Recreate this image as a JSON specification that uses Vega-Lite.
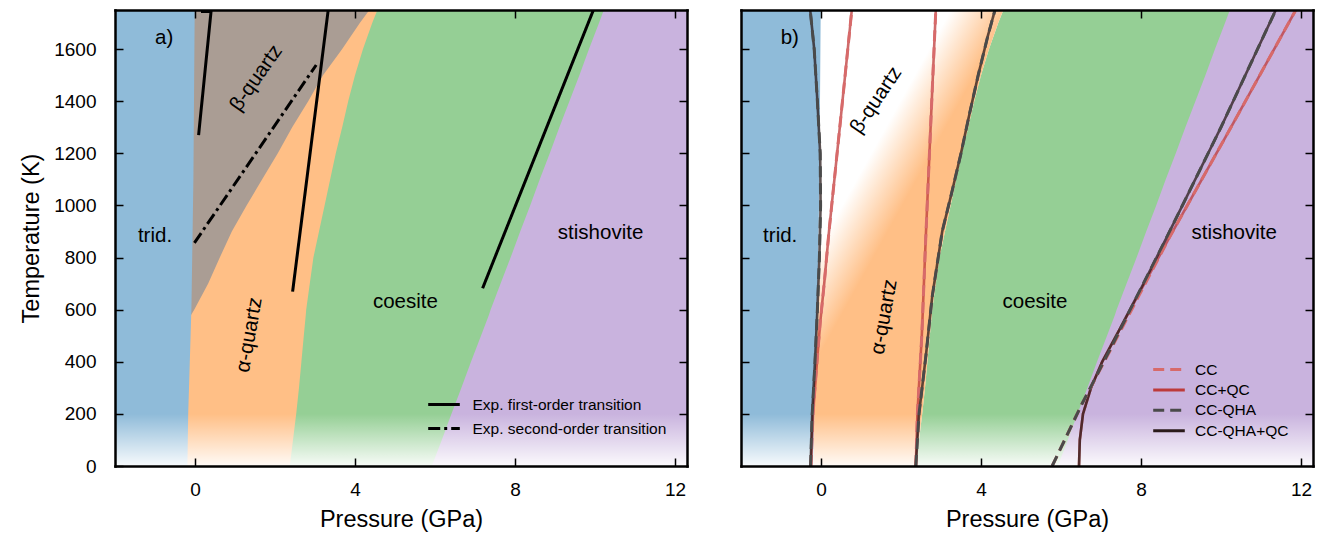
{
  "$schema": "https://vega.github.io/schema/vega-lite/v6.json",
  "background": "white",
  "padding": {"left": 19, "top": 9, "right": 5, "bottom": 2},
  "spacing": 52,
  "config": {
    "font": "Liberation Sans",
    "view": {"stroke": null, "fill": "#c9b3de"},
    "axis": {"grid": false, "domain": true, "domainColor": "black", "domainWidth": 2.5, "domainCap": "square", "tickColor": "black", "tickWidth": 1.5, "tickSize": -8, "labelColor": "black", "titleColor": "black", "labelFontSize": 19, "titleFontSize": 23.5, "titleFontWeight": "normal", "labelFont": "Liberation Sans", "titleFont": "Liberation Sans", "format": "d"},
    "legend": {"labelFontSize": 15.5, "labelColor": "black", "labelFont": "Liberation Sans", "labelLimit": 400, "symbolStrokeWidth": 3, "symbolSize": 400, "symbolType": "M-1.58,0H1.58", "padding": 0},
    "text": {"font": "Liberation Sans", "color": "black"}
  },
  "datasets": {
    "bounds": [
      {"T": 0, "b1": -0.19, "b2": null, "b3": 2.37, "b4": 5.92},
      {"T": 100, "b1": -0.18, "b2": null, "b3": 2.45, "b4": 6.17},
      {"T": 200, "b1": -0.17, "b2": null, "b3": 2.53, "b4": 6.41},
      {"T": 300, "b1": -0.15, "b2": null, "b3": 2.6, "b4": 6.66},
      {"T": 400, "b1": -0.13, "b2": null, "b3": 2.66, "b4": 6.9},
      {"T": 500, "b1": -0.11, "b2": null, "b3": 2.72, "b4": 7.15},
      {"T": 580, "b1": -0.095, "b2": -0.095, "b3": 2.77, "b4": 7.35},
      {"T": 600, "b1": -0.09, "b2": -0.02, "b3": 2.78, "b4": 7.39},
      {"T": 700, "b1": -0.08, "b2": 0.33, "b3": 2.87, "b4": 7.64},
      {"T": 800, "b1": -0.07, "b2": 0.62, "b3": 2.96, "b4": 7.89},
      {"T": 900, "b1": -0.06, "b2": 0.92, "b3": 3.1, "b4": 8.13},
      {"T": 1000, "b1": -0.05, "b2": 1.29, "b3": 3.24, "b4": 8.38},
      {"T": 1100, "b1": -0.04, "b2": 1.68, "b3": 3.38, "b4": 8.62},
      {"T": 1200, "b1": -0.035, "b2": 2.07, "b3": 3.52, "b4": 8.87},
      {"T": 1300, "b1": -0.03, "b2": 2.43, "b3": 3.68, "b4": 9.11},
      {"T": 1400, "b1": -0.025, "b2": 2.83, "b3": 3.83, "b4": 9.36},
      {"T": 1500, "b1": -0.02, "b2": 3.2, "b3": 4.0, "b4": 9.61},
      {"T": 1600, "b1": -0.015, "b2": 3.68, "b3": 4.2, "b4": 9.85},
      {"T": 1700, "b1": -0.01, "b2": 4.12, "b3": 4.43, "b4": 10.1},
      {"T": 1750, "b1": -0.005, "b2": 4.36, "b3": 4.56, "b4": 10.22}
    ],
    "fade": [{"Tlo": 0, "Thi": 200}],
    "expa": [
      {"seg": "A", "type": "Exp. first-order transition", "P": 0.09, "T": 1270},
      {"seg": "A", "type": "Exp. first-order transition", "P": 0.405, "T": 1750},
      {"seg": "At", "type": "Exp. first-order transition", "P": 0.15, "T": 1744},
      {"seg": "At", "type": "Exp. first-order transition", "P": 0.4, "T": 1744},
      {"seg": "B", "type": "Exp. first-order transition", "P": 2.44, "T": 669},
      {"seg": "B", "type": "Exp. first-order transition", "P": 3.33, "T": 1750},
      {"seg": "C", "type": "Exp. first-order transition", "P": 7.19, "T": 682},
      {"seg": "C", "type": "Exp. first-order transition", "P": 9.96, "T": 1750},
      {"seg": "D", "type": "Exp. second-order transition", "P": -0.015, "T": 856},
      {"seg": "D", "type": "Exp. second-order transition", "P": 3.03, "T": 1539}
    ],
    "labels_a": [
      {"name": "a)", "P": -0.77, "T": 1642},
      {"name": "trid.", "P": -1.0, "T": 883},
      {"name": "coesite", "P": 5.26, "T": 629},
      {"name": "stishovite", "P": 10.14, "T": 894},
      {"name": "β-quartz", "P": 1.53, "T": 1489},
      {"name": "α-quartz", "P": 1.36, "T": 503}
    ],
    "labels_b": [
      {"name": "b)", "P": -0.78, "T": 1642},
      {"name": "trid.", "P": -1.02, "T": 883},
      {"name": "coesite", "P": 5.35, "T": 629},
      {"name": "stishovite", "P": 10.33, "T": 894},
      {"name": "β-quartz", "P": 1.38, "T": 1404},
      {"name": "α-quartz", "P": 1.58, "T": 572}
    ],
    "calc": [
      {"method": "CC", "bnd": "tq", "P": -0.25, "T": 0},
      {"method": "CC", "bnd": "tq", "P": -0.2, "T": 200},
      {"method": "CC", "bnd": "tq", "P": -0.1, "T": 400},
      {"method": "CC", "bnd": "tq", "P": -0.02, "T": 550},
      {"method": "CC", "bnd": "tq", "P": 0.08, "T": 700},
      {"method": "CC", "bnd": "tq", "P": 0.2, "T": 900},
      {"method": "CC", "bnd": "tq", "P": 0.47, "T": 1300},
      {"method": "CC", "bnd": "tq", "P": 0.77, "T": 1750},
      {"method": "CC", "bnd": "qc", "P": 2.37, "T": 0},
      {"method": "CC", "bnd": "qc", "P": 2.41, "T": 200},
      {"method": "CC", "bnd": "qc", "P": 2.52, "T": 500},
      {"method": "CC", "bnd": "qc", "P": 2.62, "T": 880},
      {"method": "CC", "bnd": "qc", "P": 2.74, "T": 1300},
      {"method": "CC", "bnd": "qc", "P": 2.87, "T": 1750},
      {"method": "CC", "bnd": "cs", "P": 5.78, "T": 0},
      {"method": "CC", "bnd": "cs", "P": 6.53, "T": 240},
      {"method": "CC", "bnd": "cs", "P": 7.37, "T": 484},
      {"method": "CC", "bnd": "cs", "P": 8.72, "T": 880},
      {"method": "CC", "bnd": "cs", "P": 10.25, "T": 1300},
      {"method": "CC", "bnd": "cs", "P": 11.87, "T": 1750},
      {"method": "CC+QC", "bnd": "tq", "P": -0.25, "T": 0},
      {"method": "CC+QC", "bnd": "tq", "P": -0.2, "T": 200},
      {"method": "CC+QC", "bnd": "tq", "P": -0.1, "T": 400},
      {"method": "CC+QC", "bnd": "tq", "P": -0.02, "T": 550},
      {"method": "CC+QC", "bnd": "tq", "P": 0.08, "T": 700},
      {"method": "CC+QC", "bnd": "tq", "P": 0.2, "T": 900},
      {"method": "CC+QC", "bnd": "tq", "P": 0.47, "T": 1300},
      {"method": "CC+QC", "bnd": "tq", "P": 0.77, "T": 1750},
      {"method": "CC+QC", "bnd": "qc", "P": 2.37, "T": 0},
      {"method": "CC+QC", "bnd": "qc", "P": 2.41, "T": 200},
      {"method": "CC+QC", "bnd": "qc", "P": 2.52, "T": 500},
      {"method": "CC+QC", "bnd": "qc", "P": 2.62, "T": 880},
      {"method": "CC+QC", "bnd": "qc", "P": 2.74, "T": 1300},
      {"method": "CC+QC", "bnd": "qc", "P": 2.87, "T": 1750},
      {"method": "CC+QC", "bnd": "cs", "P": 6.45, "T": 0},
      {"method": "CC+QC", "bnd": "cs", "P": 6.47, "T": 100},
      {"method": "CC+QC", "bnd": "cs", "P": 6.55, "T": 200},
      {"method": "CC+QC", "bnd": "cs", "P": 6.75, "T": 300},
      {"method": "CC+QC", "bnd": "cs", "P": 7.03, "T": 400},
      {"method": "CC+QC", "bnd": "cs", "P": 7.45, "T": 520},
      {"method": "CC+QC", "bnd": "cs", "P": 8.05, "T": 690},
      {"method": "CC+QC", "bnd": "cs", "P": 8.72, "T": 880},
      {"method": "CC+QC", "bnd": "cs", "P": 10.25, "T": 1300},
      {"method": "CC+QC", "bnd": "cs", "P": 11.87, "T": 1750},
      {"method": "CC-QHA", "bnd": "tq", "P": -0.26, "T": 0},
      {"method": "CC-QHA", "bnd": "tq", "P": -0.22, "T": 200},
      {"method": "CC-QHA", "bnd": "tq", "P": -0.15, "T": 400},
      {"method": "CC-QHA", "bnd": "tq", "P": -0.09, "T": 600},
      {"method": "CC-QHA", "bnd": "tq", "P": -0.04, "T": 800},
      {"method": "CC-QHA", "bnd": "tq", "P": -0.01, "T": 1000},
      {"method": "CC-QHA", "bnd": "tq", "P": -0.02, "T": 1200},
      {"method": "CC-QHA", "bnd": "tq", "P": -0.09, "T": 1400},
      {"method": "CC-QHA", "bnd": "tq", "P": -0.17, "T": 1600},
      {"method": "CC-QHA", "bnd": "tq", "P": -0.27, "T": 1750},
      {"method": "CC-QHA", "bnd": "qc", "P": 2.37, "T": 0},
      {"method": "CC-QHA", "bnd": "qc", "P": 2.45, "T": 200},
      {"method": "CC-QHA", "bnd": "qc", "P": 2.62, "T": 420},
      {"method": "CC-QHA", "bnd": "qc", "P": 2.78, "T": 650},
      {"method": "CC-QHA", "bnd": "qc", "P": 3.03, "T": 900},
      {"method": "CC-QHA", "bnd": "qc", "P": 3.27, "T": 1050},
      {"method": "CC-QHA", "bnd": "qc", "P": 3.5, "T": 1200},
      {"method": "CC-QHA", "bnd": "qc", "P": 3.71, "T": 1350},
      {"method": "CC-QHA", "bnd": "qc", "P": 3.93, "T": 1500},
      {"method": "CC-QHA", "bnd": "qc", "P": 4.17, "T": 1650},
      {"method": "CC-QHA", "bnd": "qc", "P": 4.35, "T": 1750},
      {"method": "CC-QHA", "bnd": "cs", "P": 5.78, "T": 0},
      {"method": "CC-QHA", "bnd": "cs", "P": 6.53, "T": 240},
      {"method": "CC-QHA", "bnd": "cs", "P": 7.35, "T": 484},
      {"method": "CC-QHA", "bnd": "cs", "P": 8.65, "T": 880},
      {"method": "CC-QHA", "bnd": "cs", "P": 10.0, "T": 1300},
      {"method": "CC-QHA", "bnd": "cs", "P": 11.37, "T": 1750},
      {"method": "CC-QHA+QC", "bnd": "tq", "P": -0.26, "T": 0},
      {"method": "CC-QHA+QC", "bnd": "tq", "P": -0.22, "T": 200},
      {"method": "CC-QHA+QC", "bnd": "tq", "P": -0.15, "T": 400},
      {"method": "CC-QHA+QC", "bnd": "tq", "P": -0.09, "T": 600},
      {"method": "CC-QHA+QC", "bnd": "tq", "P": -0.04, "T": 800},
      {"method": "CC-QHA+QC", "bnd": "tq", "P": -0.01, "T": 1000},
      {"method": "CC-QHA+QC", "bnd": "tq", "P": -0.02, "T": 1200},
      {"method": "CC-QHA+QC", "bnd": "tq", "P": -0.09, "T": 1400},
      {"method": "CC-QHA+QC", "bnd": "tq", "P": -0.17, "T": 1600},
      {"method": "CC-QHA+QC", "bnd": "tq", "P": -0.27, "T": 1750},
      {"method": "CC-QHA+QC", "bnd": "qc", "P": 2.37, "T": 0},
      {"method": "CC-QHA+QC", "bnd": "qc", "P": 2.45, "T": 200},
      {"method": "CC-QHA+QC", "bnd": "qc", "P": 2.62, "T": 420},
      {"method": "CC-QHA+QC", "bnd": "qc", "P": 2.78, "T": 650},
      {"method": "CC-QHA+QC", "bnd": "qc", "P": 3.03, "T": 900},
      {"method": "CC-QHA+QC", "bnd": "qc", "P": 3.27, "T": 1050},
      {"method": "CC-QHA+QC", "bnd": "qc", "P": 3.5, "T": 1200},
      {"method": "CC-QHA+QC", "bnd": "qc", "P": 3.71, "T": 1350},
      {"method": "CC-QHA+QC", "bnd": "qc", "P": 3.93, "T": 1500},
      {"method": "CC-QHA+QC", "bnd": "qc", "P": 4.17, "T": 1650},
      {"method": "CC-QHA+QC", "bnd": "qc", "P": 4.35, "T": 1750},
      {"method": "CC-QHA+QC", "bnd": "cs", "P": 6.45, "T": 0},
      {"method": "CC-QHA+QC", "bnd": "cs", "P": 6.47, "T": 100},
      {"method": "CC-QHA+QC", "bnd": "cs", "P": 6.55, "T": 200},
      {"method": "CC-QHA+QC", "bnd": "cs", "P": 6.75, "T": 300},
      {"method": "CC-QHA+QC", "bnd": "cs", "P": 7.03, "T": 400},
      {"method": "CC-QHA+QC", "bnd": "cs", "P": 7.45, "T": 520},
      {"method": "CC-QHA+QC", "bnd": "cs", "P": 8.03, "T": 690},
      {"method": "CC-QHA+QC", "bnd": "cs", "P": 8.65, "T": 880},
      {"method": "CC-QHA+QC", "bnd": "cs", "P": 10.0, "T": 1300},
      {"method": "CC-QHA+QC", "bnd": "cs", "P": 11.37, "T": 1750}
    ]
  },
  "resolve": {"scale": {"strokeDash": "independent", "color": "independent"}, "legend": {"strokeDash": "independent", "color": "independent"}},
  "hconcat": [
    {
      "width": 572,
      "height": 456,
      "resolve": {"axis": {"x": "independent", "y": "independent"}},
      "layer": [
        {
          "data": {"name": "bounds"},
          "mark": {"type": "area", "orient": "horizontal", "color": "#95cf95"},
          "encoding": {
            "y": {"field": "T", "type": "quantitative", "scale": {"domain": [0, 1750], "nice": false, "zero": false},
                  "axis": {"orient": "left", "zindex": 1, "values": [0, 200, 400, 600, 800, 1000, 1200, 1400, 1600], "title": "Temperature (K)", "titlePadding": 10, "labelPadding": 27}},
            "x": {"field": "b4", "type": "quantitative", "scale": {"domain": [-2, 12.3], "nice": false, "zero": false},
                  "axis": {"orient": "bottom", "zindex": 1, "values": [0, 4, 8, 12], "title": "Pressure (GPa)", "titlePadding": 8, "labelPadding": 22}},
            "x2": {"datum": -2}
          }
        },
        {
          "data": {"name": "bounds"},
          "mark": {"type": "area", "orient": "horizontal", "color": "#ffbf86"},
          "encoding": {
            "y": {"field": "T", "type": "quantitative", "axis": null},
            "x": {"field": "b3", "type": "quantitative", "axis": null},
            "x2": {"datum": -2}
          }
        },
        {
          "data": {"name": "bounds"},
          "transform": [{"filter": "isValid(datum.b2)"}],
          "mark": {"type": "area", "orient": "horizontal", "color": "#aa9d94"},
          "encoding": {
            "y": {"field": "T", "type": "quantitative", "axis": null},
            "x": {"field": "b2", "type": "quantitative", "axis": null},
            "x2": {"datum": -2}
          }
        },
        {
          "data": {"name": "bounds"},
          "mark": {"type": "area", "orient": "horizontal", "color": "#8fbbd9"},
          "encoding": {
            "y": {"field": "T", "type": "quantitative", "axis": null},
            "x": {"field": "b1", "type": "quantitative", "axis": null},
            "x2": {"datum": -2}
          }
        },
        {
          "data": {"name": "fade"},
          "mark": {"type": "rect", "color": {"gradient": "linear", "x1": 0, "y1": 1, "x2": 0, "y2": 0, "stops": [{"offset": 0, "color": "rgba(255,255,255,0.93)"}, {"offset": 1, "color": "rgba(255,255,255,0)"}]}},
          "encoding": {
            "y": {"field": "Tlo", "type": "quantitative", "axis": null},
            "y2": {"field": "Thi"}
          }
        },
        {
          "data": {"name": "expa"},
          "mark": {"type": "line", "color": "black", "strokeWidth": 3, "clip": true},
          "encoding": {
            "x": {"field": "P", "type": "quantitative", "axis": {"orient": "top", "zindex": 1, "values": [0, 4, 8, 12], "labels": false, "title": null}},
            "y": {"field": "T", "type": "quantitative", "axis": {"orient": "right", "zindex": 1, "values": [200, 400, 600, 800, 1000, 1200, 1400, 1600], "labels": false, "title": null}},
            "detail": {"field": "seg"},
            "order": {"field": "T", "type": "quantitative"},
            "strokeDash": {"field": "type", "type": "nominal",
              "scale": {"domain": ["Exp. first-order transition", "Exp. second-order transition"], "range": [[1, 0], [12, 4, 3, 4]]},
              "legend": {"orient": "none", "legendX": 317.5, "legendY": 383, "title": null, "rowPadding": 4, "labelOffset": 17, "symbolStrokeColor": "black"}}
          }
        },
        {
          "data": {"name": "labels_a"},
          "transform": [{"filter": "datum.name !== 'β-quartz' && datum.name !== 'α-quartz'"}],
          "mark": {"type": "text", "fontSize": 20.5, "align": "center", "baseline": "middle"},
          "encoding": {
            "x": {"field": "P", "type": "quantitative", "axis": null},
            "y": {"field": "T", "type": "quantitative", "axis": null},
            "text": {"field": "name"}
          }
        },
        {
          "data": {"name": "labels_a"},
          "transform": [{"filter": "datum.name === 'β-quartz'"}],
          "mark": {"type": "text", "fontSize": 20.5, "align": "center", "baseline": "middle", "angle": 305},
          "encoding": {
            "x": {"field": "P", "type": "quantitative", "axis": null},
            "y": {"field": "T", "type": "quantitative", "axis": null},
            "text": {"field": "name"}
          }
        },
        {
          "data": {"name": "labels_a"},
          "transform": [{"filter": "datum.name === 'α-quartz'"}],
          "mark": {"type": "text", "fontSize": 20.5, "align": "center", "baseline": "middle", "angle": 280},
          "encoding": {
            "x": {"field": "P", "type": "quantitative", "axis": null},
            "y": {"field": "T", "type": "quantitative", "axis": null},
            "text": {"field": "name"}
          }
        }
      ]
    },
    {
      "width": 572,
      "height": 456,
      "resolve": {"axis": {"x": "independent", "y": "independent"}},
      "layer": [
        {
          "data": {"name": "bounds"},
          "mark": {"type": "area", "orient": "horizontal", "color": "#95cf95"},
          "encoding": {
            "y": {"field": "T", "type": "quantitative", "scale": {"domain": [0, 1750], "nice": false, "zero": false},
                  "axis": {"orient": "left", "zindex": 1, "values": [200, 400, 600, 800, 1000, 1200, 1400, 1600], "labels": false, "title": null}},
            "x": {"field": "b4", "type": "quantitative", "scale": {"domain": [-2, 12.3], "nice": false, "zero": false},
                  "axis": {"orient": "bottom", "zindex": 1, "values": [0, 4, 8, 12], "title": "Pressure (GPa)", "titlePadding": 8, "labelPadding": 22}},
            "x2": {"datum": -2}
          }
        },
        {
          "data": {"name": "bounds"},
          "mark": {"type": "area", "orient": "horizontal", "color": "white"},
          "encoding": {
            "y": {"field": "T", "type": "quantitative", "axis": null},
            "x": {"field": "b3", "type": "quantitative", "axis": null},
            "x2": {"datum": -2}
          }
        },
        {
          "data": {"name": "bounds"},
          "mark": {"type": "area", "orient": "horizontal", "color": {"gradient": "linear", "x1": 0.422, "y1": 0.226, "x2": 0.536, "y2": 0.378, "stops": [{"offset": 0, "color": "#ffffff"}, {"offset": 1, "color": "#ffbf86"}]}},
          "encoding": {
            "y": {"field": "T", "type": "quantitative", "axis": null},
            "x": {"field": "b1", "type": "quantitative", "axis": null},
            "x2": {"field": "b3"}
          }
        },
        {
          "data": {"name": "bounds"},
          "mark": {"type": "area", "orient": "horizontal", "color": "#8fbbd9"},
          "encoding": {
            "y": {"field": "T", "type": "quantitative", "axis": null},
            "x": {"field": "b1", "type": "quantitative", "axis": null},
            "x2": {"datum": -2}
          }
        },
        {
          "data": {"name": "fade"},
          "mark": {"type": "rect", "color": {"gradient": "linear", "x1": 0, "y1": 1, "x2": 0, "y2": 0, "stops": [{"offset": 0, "color": "rgba(255,255,255,0.93)"}, {"offset": 1, "color": "rgba(255,255,255,0)"}]}},
          "encoding": {
            "y": {"field": "Tlo", "type": "quantitative", "axis": null},
            "y2": {"field": "Thi"}
          }
        },
        {
          "data": {"name": "calc"},
          "transform": [{"filter": "indexof(datum.method, '+QC') >= 0"}],
          "mark": {"type": "line", "strokeWidth": 2.6, "strokeOpacity": 0.75, "clip": true},
          "encoding": {
            "x": {"field": "P", "type": "quantitative", "axis": {"orient": "top", "zindex": 1, "values": [0, 4, 8, 12], "labels": false, "title": null}},
            "y": {"field": "T", "type": "quantitative", "axis": {"orient": "right", "zindex": 1, "values": [200, 400, 600, 800, 1000, 1200, 1400, 1600], "labels": false, "title": null}},
            "detail": {"field": "bnd"},
            "order": {"field": "T", "type": "quantitative"},
            "color": {"field": "method", "type": "nominal",
              "scale": {"domain": ["CC", "CC+QC", "CC-QHA", "CC-QHA+QC"], "range": ["#d76a6a", "#bd3a3a", "#4a4a4a", "#2a1a1a"]},
              "legend": {"orient": "none", "legendX": 416.5, "legendY": 348, "title": null, "rowPadding": 0.4, "labelOffset": 14.5}},
            "strokeDash": {"field": "method", "type": "nominal",
              "scale": {"domain": ["CC", "CC+QC", "CC-QHA", "CC-QHA+QC"], "range": [[11, 6], [1, 0], [11, 6], [1, 0]]},
              "legend": {"orient": "none", "legendX": 416.5, "legendY": 348, "title": null, "rowPadding": 0.4, "labelOffset": 14.5}}
          }
        },
        {
          "data": {"name": "calc"},
          "transform": [{"filter": "indexof(datum.method, '+QC') < 0"}],
          "mark": {"type": "line", "strokeWidth": 3, "clip": true},
          "encoding": {
            "x": {"field": "P", "type": "quantitative", "axis": null},
            "y": {"field": "T", "type": "quantitative", "axis": null},
            "detail": {"field": "bnd"},
            "order": {"field": "T", "type": "quantitative"},
            "color": {"field": "method", "type": "nominal"},
            "strokeDash": {"field": "method", "type": "nominal"}
          }
        },
        {
          "data": {"name": "labels_b"},
          "transform": [{"filter": "datum.name !== 'β-quartz' && datum.name !== 'α-quartz'"}],
          "mark": {"type": "text", "fontSize": 20.5, "align": "center", "baseline": "middle"},
          "encoding": {
            "x": {"field": "P", "type": "quantitative", "axis": null},
            "y": {"field": "T", "type": "quantitative", "axis": null},
            "text": {"field": "name"}
          }
        },
        {
          "data": {"name": "labels_b"},
          "transform": [{"filter": "datum.name === 'β-quartz'"}],
          "mark": {"type": "text", "fontSize": 20.5, "align": "center", "baseline": "middle", "angle": 304},
          "encoding": {
            "x": {"field": "P", "type": "quantitative", "axis": null},
            "y": {"field": "T", "type": "quantitative", "axis": null},
            "text": {"field": "name"}
          }
        },
        {
          "data": {"name": "labels_b"},
          "transform": [{"filter": "datum.name === 'α-quartz'"}],
          "mark": {"type": "text", "fontSize": 20.5, "align": "center", "baseline": "middle", "angle": 280},
          "encoding": {
            "x": {"field": "P", "type": "quantitative", "axis": null},
            "y": {"field": "T", "type": "quantitative", "axis": null},
            "text": {"field": "name"}
          }
        }
      ]
    }
  ]
}
